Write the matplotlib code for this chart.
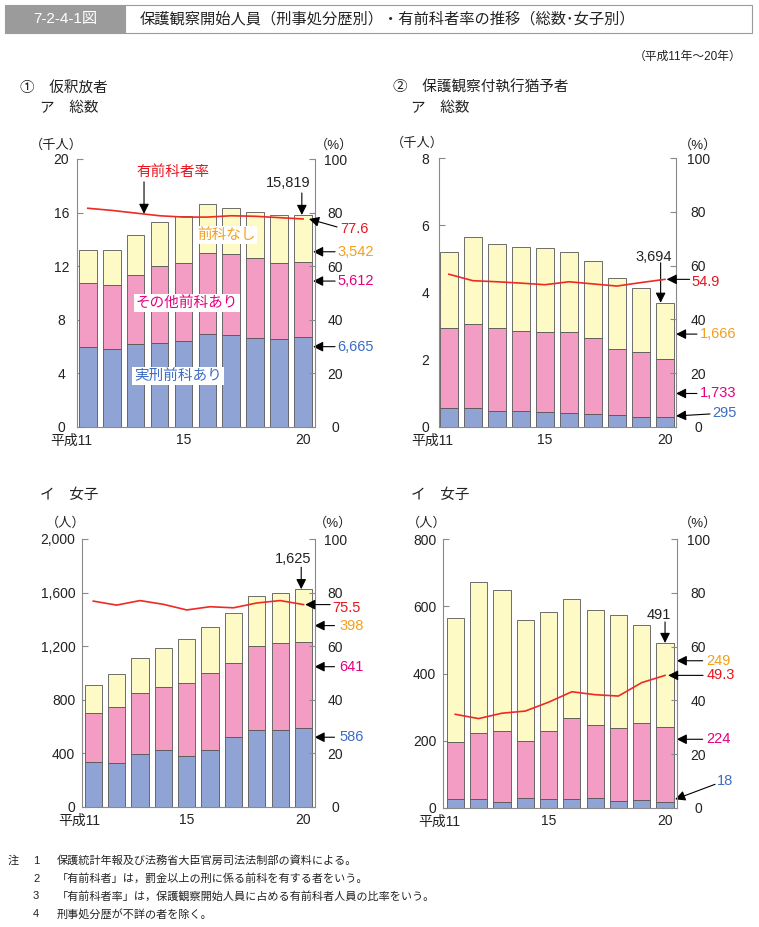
import matplotlib
matplotlib.use("Agg")
import matplotlib.pyplot as plt
import matplotlib.patches as mpatches
import matplotlib.transforms as mtrans
import numpy as np

plt.rcParams['font.family'] = ['Liberation Sans', 'Noto Sans CJK JP']

# ---------------- data ----------------
years = list(range(11, 21))
xtick_labels = ['平成11', '15', '20']
xtick_years = [11, 15, 20]

# ① 仮釈放者 ア 総数 (persons)
p_tot_jikkei = [5980, 5800, 6150, 6280, 6380, 6900, 6850, 6600, 6530, 6665]
p_tot_sonota = [4750, 4810, 5210, 5700, 5870, 6080, 6030, 5980, 5720, 5612]
p_tot_nashi = [2470, 2590, 2990, 3290, 3490, 3680, 3480, 3480, 3570, 3542]
p_tot_rate = [81.6, 80.8, 79.8, 78.8, 78.3, 78.3, 78.8, 78.6, 78.1, 77.6]

# ② 保護観察付執行猶予者 ア 総数 (persons)
s_tot_jikkei = [557, 547, 457, 477, 427, 400, 390, 350, 300, 295]
s_tot_sonota = [2373, 2503, 2473, 2383, 2393, 2420, 2240, 1980, 1920, 1733]
s_tot_nashi = [2270, 2590, 2520, 2490, 2520, 2400, 2320, 2110, 1900, 1666]
s_tot_rate = [56.8, 54.4, 54.0, 53.5, 52.9, 54.0, 53.2, 52.4, 53.7, 54.9]

# ① イ 女子
p_f_jikkei = [336, 329, 391, 423, 379, 421, 521, 570, 575, 586]
p_f_sonota = [361, 416, 461, 471, 543, 578, 555, 628, 648, 641]
p_f_nashi = [215, 249, 256, 294, 333, 341, 374, 379, 371, 398]
p_f_rate = [76.8, 75.3, 77.0, 75.6, 73.5, 74.7, 74.3, 76.1, 77.0, 75.5]

# ② イ 女子
s_f_jikkei = [25, 27, 18, 28, 25, 26, 28, 19, 22, 18]
s_f_sonota = [171, 195, 210, 172, 203, 240, 219, 219, 230, 224]
s_f_nashi = [370, 450, 421, 359, 354, 355, 343, 335, 294, 249]
s_f_rate = [34.8, 33.2, 35.2, 36.0, 39.3, 43.2, 42.1, 41.6, 46.6, 49.3]

# ---------------- style ----------------
W, H = 759, 927
C_BLUE = '#8fa3d4'
C_PINK = '#f39cc4'
C_YEL = '#fefac6'
C_EDGE = '#555555'
C_LINE = '#ee2a24'
T_RED = '#e8151e'
T_ORA = '#f5a01a'
T_MAG = '#e4007f'
T_BLU = '#3c6cc4'
C_SPINE = '#8a8a8a'
TXT = '#222222'

fig = plt.figure(figsize=(W / 100, H / 100), dpi=100)


def ftext(x, y, s, **kw):
    kw.setdefault('color', TXT)
    return fig.text(x / W, 1 - y / H, s, **kw)


def make_axes(left, top, right, bottom):
    return fig.add_axes([left / W, 1 - bottom / H, (right - left) / W, (bottom - top) / H])


arrow_kw = dict(arrowstyle='-|>,head_length=0.6,head_width=0.3', color='black',
                lw=0.8, shrinkA=0, shrinkB=0, mutation_scale=10)


def arrow(ax, tip, off):
    ax.annotate('', xy=tip, xytext=off, textcoords='offset pixels',
                arrowprops=arrow_kw, annotation_clip=False)


def label(ax, pos, off, s, color, ha='left', va='center', size=10.5):
    ax.annotate(s, xy=pos, xytext=off, textcoords='offset pixels', ha=ha, va=va,
                color=color, fontsize=size, annotation_clip=False)


def panel(box, jik, son, nas, rate, unit, ymax, yticks, ytfmt, xlim,
          left_ha, left_pad, right_pad, first_off):
    ax = make_axes(*box)
    x = np.array(years)
    j = np.array(jik) / unit
    s = np.array(son) / unit
    n = np.array(nas) / unit
    bw = 0.74
    ax.bar(x, j, bw, color=C_BLUE, edgecolor=C_EDGE, linewidth=0.6, zorder=2)
    ax.bar(x, s, bw, bottom=j, color=C_PINK, edgecolor=C_EDGE, linewidth=0.6, zorder=2)
    ax.bar(x, n, bw, bottom=j + s, color=C_YEL, edgecolor=C_EDGE, linewidth=0.6, zorder=2)
    ax.set_xlim(*xlim)
    ax.set_ylim(0, ymax)
    ax.set_yticks(yticks)
    ax.set_yticklabels([ytfmt(v) for v in yticks])
    ax.tick_params(axis='y', direction='in', length=4, width=0.8, color=C_SPINE,
                   labelsize=10, labelcolor=TXT, pad=left_pad)
    for lbl in ax.get_yticklabels():
        lbl.set_ha(left_ha)
    ax.set_xticks([])
    for sp in ['top', 'right']:
        ax.spines[sp].set_visible(False)
    for sp in ['left', 'bottom']:
        ax.spines[sp].set_color(C_SPINE)
        ax.spines[sp].set_linewidth(0.8)
    ax.patch.set_alpha(0)

    ax2 = ax.twinx()
    ax2.set_ylim(0, 100)
    ax2.set_yticks(range(0, 101, 20))
    ax2.tick_params(axis='y', direction='in', length=4, width=0.8, color=C_SPINE,
                    labelsize=10, labelcolor=TXT, pad=right_pad)
    for lbl in ax2.get_yticklabels():
        lbl.set_ha('center')
    for sp in ['top', 'left', 'bottom']:
        ax2.spines[sp].set_visible(False)
    ax2.spines['right'].set_color(C_SPINE)
    ax2.spines['right'].set_linewidth(0.8)
    ax2.plot(x, rate, color=C_LINE, lw=1.2, zorder=5)

    # x tick labels
    tr = mtrans.blended_transform_factory(ax.transData, ax.transAxes)
    for yr, lab in zip(xtick_years, xtick_labels):
        if yr == years[0]:
            ax.text(yr + first_off, -0.025, lab, transform=tr, ha='right', va='top',
                    fontsize=10, color=TXT)
        else:
            ax.text(yr, -0.025, lab, transform=tr, ha='center', va='top',
                    fontsize=10, color=TXT)
    return ax, ax2, j, s, n


def fmt_int(v):
    return f'{int(v):,}'


# ---------------- header ----------------
fig.patches.append(mpatches.Rectangle((5 / W, 1 - 33 / H), 120 / W, 28 / H,
                                      transform=fig.transFigure, facecolor='#9b9b9b',
                                      edgecolor='#9b9b9b', lw=0.8))
fig.patches.append(mpatches.Rectangle((125 / W, 1 - 33 / H), 627 / W, 28 / H,
                                      transform=fig.transFigure, facecolor='white',
                                      edgecolor='#9b9b9b', lw=0.8))
ftext(65, 19, '7-2-4-1図', ha='center', va='center', fontsize=11, color='white')
ftext(140, 19, '保護観察開始人員（刑事処分歴別）・有前科者率の推移（総数･女子別）',
      ha='left', va='center', fontsize=11)
ftext(741, 57, '（平成11年～20年）', ha='right', va='center', fontsize=8.5)

ftext(20, 88, '①　仮釈放者', ha='left', va='center', fontsize=10.5)
ftext(40, 108, 'ア　総数', ha='left', va='center', fontsize=10.5)
ftext(393, 88, '②　保護観察付執行猶予者', ha='left', va='center', fontsize=10.5)
ftext(411, 108, 'ア　総数', ha='left', va='center', fontsize=10.5)
ftext(40, 495, 'イ　女子', ha='left', va='center', fontsize=10.5)
ftext(411, 495, 'イ　女子', ha='left', va='center', fontsize=10.5)

# ---------------- panel 1 ----------------
ax, ax2, j, s, n = panel((77.3, 159, 315, 426.7), p_tot_jikkei, p_tot_sonota, p_tot_nashi,
                         p_tot_rate, 1000, 20, [0, 4, 8, 12, 16, 20], fmt_int,
                         (years[0] - 0.44, years[-1] + 0.5), 'center', 11.5, 14.5, 0.17)
ftext(56, 145, '（千人）', ha='center', va='center', fontsize=9.5)
ftext(334, 145, '（%）', ha='center', va='center', fontsize=9.5)
last = years[-1]
tot = j[-1] + s[-1] + n[-1]
arrow(ax, (last - 0.05, tot), (0, 22))
label(ax, (last - 0.05, tot), (-14, 32), f'{sum([p_tot_jikkei[-1], p_tot_sonota[-1], p_tot_nashi[-1]]):,}',
      TXT, ha='center')
arrow(ax2, (last + 0.25, p_tot_rate[-1]), (28, -8))
label(ax2, (last + 0.25, p_tot_rate[-1]), (31, -10), f'{p_tot_rate[-1]}', T_RED)
# series labels at right
xr = last + 0.42
for yv, val, col in [(13.07, p_tot_nashi[-1], T_ORA), (10.88, p_tot_sonota[-1], T_MAG),
                     (5.98, p_tot_jikkei[-1], T_BLU)]:
    arrow(ax, (xr, yv), (22, 0))
    label(ax, (xr, yv), (24, 0), f'{val:,}', col)
# 有前科者率
arrow(ax, (13.35, 15.9), (0, 32))
ax.text(14.56, 19.0, '有前科者率', ha='center', va='center', color=T_RED, fontsize=10.5)
bb = dict(facecolor='white', edgecolor='none', pad=1.5)
ax.text(16.78, 14.32, '前科なし', ha='center', va='center', color=T_ORA, fontsize=10.5, bbox=bb, zorder=6)
ax.text(15.15, 9.24, 'その他前科あり', ha='center', va='center', color=T_MAG, fontsize=10.5, bbox=bb, zorder=6)
ax.text(14.77, 3.79, '実刑前科あり', ha='center', va='center', color=T_BLU, fontsize=10.5, bbox=bb, zorder=6)

# ---------------- panel 2 ----------------
ax, ax2, j, s, n = panel((439.3, 158.3, 676, 426.7), s_tot_jikkei, s_tot_sonota, s_tot_nashi,
                         s_tot_rate, 1000, 8, [0, 2, 4, 6, 8], fmt_int,
                         (years[0] - 0.4, years[-1] + 0.46), 'center', 10, 16, 0.18)
ftext(417.5, 143, '（千人）', ha='center', va='center', fontsize=9.5)
ftext(698.5, 145, '（%）', ha='center', va='center', fontsize=9.5)
tot = j[-1] + s[-1] + n[-1]
arrow(ax, (last - 0.18, tot), (0, 40))
label(ax, (last - 0.18, tot), (-7, 46), f'{sum([s_tot_jikkei[-1], s_tot_sonota[-1], s_tot_nashi[-1]]):,}',
      TXT, ha='center')
arrow(ax2, (last + 0.07, s_tot_rate[-1]), (23, 0))
label(ax2, (last + 0.07, s_tot_rate[-1]), (25, -3), f'{s_tot_rate[-1]}', T_RED)
xr = last + 0.46
for yv, val, col in [(2.76, s_tot_nashi[-1], T_ORA), (0.99, s_tot_sonota[-1], T_MAG)]:
    arrow(ax, (xr, yv), (21, 0))
    label(ax, (xr, yv), (24, 0), f'{val:,}', col)
arrow(ax, (xr, 0.32), (34, 2))
label(ax, (xr, 0.32), (36, 3), f'{s_tot_jikkei[-1]:,}', T_BLU)

# ---------------- panel 3 ----------------
ax, ax2, j, s, n = panel((82.3, 539, 315, 806.7), p_f_jikkei, p_f_sonota, p_f_nashi,
                         p_f_rate, 1, 2000, [0, 400, 800, 1200, 1600, 2000], fmt_int,
                         (years[0] - 0.47, years[-1] + 0.49), 'right', 5, 14.5, 0.28)
ftext(65.5, 523, '（人）', ha='center', va='center', fontsize=9.5)
ftext(333.5, 523, '（%）', ha='center', va='center', fontsize=9.5)
tot = j[-1] + s[-1] + n[-1]
arrow(ax, (last - 0.1, tot), (0, 22))
label(ax, (last - 0.1, tot), (-8, 30), f'{int(tot):,}', TXT, ha='center')
arrow(ax2, (last + 0.07, p_f_rate[-1]), (25, 0))
label(ax2, (last + 0.07, p_f_rate[-1]), (27, -3), f'{p_f_rate[-1]}', T_RED)
xr = last + 0.47
for yv, val, col in [(1353, p_f_nashi[-1], T_ORA), (1046, p_f_sonota[-1], T_MAG),
                     (519, p_f_jikkei[-1], T_BLU)]:
    arrow(ax, (xr, yv), (20, 0))
    label(ax, (xr, yv), (25, 0), f'{val:,}', col)

# ---------------- panel 4 ----------------
ax, ax2, j, s, n = panel((443.3, 539.3, 676.7, 807.7), s_f_jikkei, s_f_sonota, s_f_nashi,
                         s_f_rate, 1, 800, [0, 200, 400, 600, 800], fmt_int,
                         (years[0] - 0.515, years[-1] + 0.5), 'right', 5, 15.5, 0.2)
ftext(426.5, 523, '（人）', ha='center', va='center', fontsize=9.5)
ftext(698.5, 523, '（%）', ha='center', va='center', fontsize=9.5)
tot = j[-1] + s[-1] + n[-1]
arrow(ax, (last, tot), (0, 21))
label(ax, (last, tot), (-6, 28), f'{int(tot):,}', TXT, ha='center')
arrow(ax2, (last + 0.13, s_f_rate[-1]), (35, 0))
label(ax2, (last + 0.13, s_f_rate[-1]), (39, 0), f'{s_f_rate[-1]}', T_RED)
xr = last + 0.5
for yv, val, col in [(438, s_f_nashi[-1], T_ORA), (204, s_f_sonota[-1], T_MAG)]:
    arrow(ax, (xr, yv), (26, 0))
    label(ax, (xr, yv), (30, 0), f'{val:,}', col)
arrow(ax, (last + 0.43, 25), (40, 15))
label(ax, (last + 0.43, 25), (42, 18), f'{s_f_jikkei[-1]:,}', T_BLU)

# ---------------- notes ----------------
notes = [
    ('注', '1', '保護統計年報及び法務省大臣官房司法法制部の資料による。'),
    ('', '2', '「有前科者」は，罰金以上の刑に係る前科を有する者をいう。'),
    ('', '3', '「有前科者率」は，保護観察開始人員に占める有前科者人員の比率をいう。'),
    ('', '4', '刑事処分歴が不詳の者を除く。'),
]
for i, (a, b, c) in enumerate(notes):
    y = 861 + i * 17.7
    if a:
        ftext(8, y, a, ha='left', va='center', fontsize=8)
    ftext(33, y, b, ha='left', va='center', fontsize=8)
    ftext(57, y, c, ha='left', va='center', fontsize=8)

fig.savefig('out.png', dpi=100)
